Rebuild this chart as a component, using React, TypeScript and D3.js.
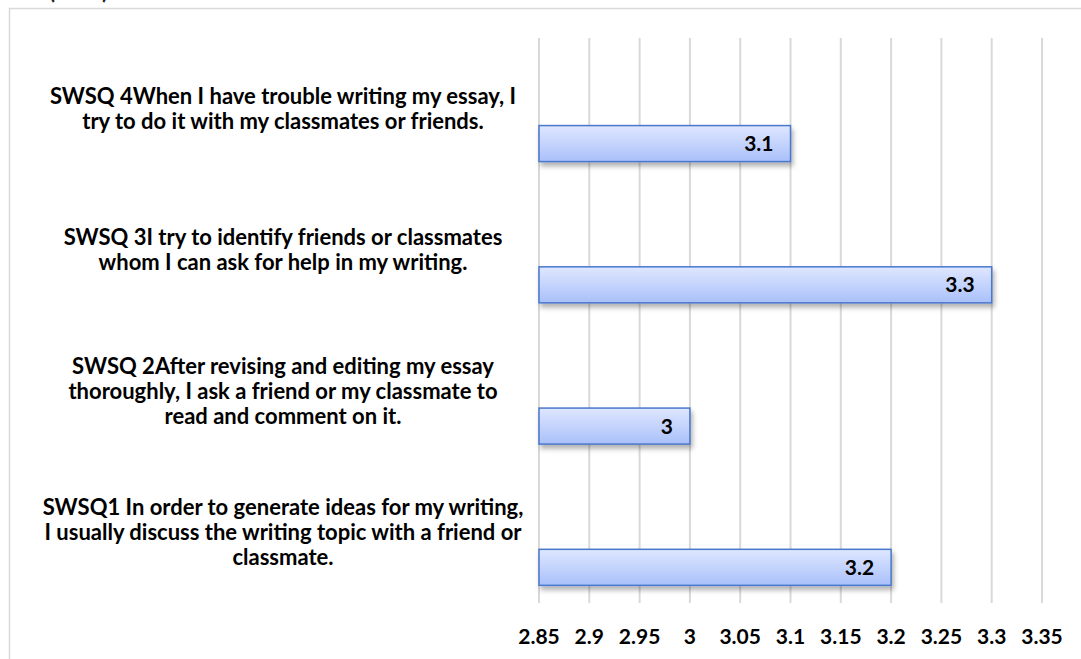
import React, { useEffect, useRef } from 'react';
import * as d3 from 'd3';

// categories listed top to bottom
const categories = ['SWSQ4', 'SWSQ3', 'SWSQ2', 'SWSQ1'];
const labelLines = [
  ['SWSQ 4When I have trouble writing my essay, I', 'try to do it with my classmates or friends.'],
  ['SWSQ 3I try to identify friends or classmates', 'whom I can ask for help in my writing.'],
  ['SWSQ 2After revising and editing my essay', 'thoroughly, I ask a friend or my classmate to', 'read and comment on it.'],
  ['SWSQ1 In order to generate ideas for my writing,', 'I usually discuss the writing topic with a friend or', 'classmate.'],
];
const values = [3.1, 3.3, 3, 3.2];
const ticks = [2.85, 2.9, 2.95, 3, 3.05, 3.1, 3.15, 3.2, 3.25, 3.3, 3.35];

const W = 1081;
const H = 659;
const FONT = 'Lato, "Open Sans", sans-serif';

const App: React.FC = () => {
  const svgRef = useRef<SVGSVGElement>(null);

  useEffect(() => {
    if (!svgRef.current) return;
    const svg = d3.select(svgRef.current);
    svg.selectAll('*').remove();

    const defs = svg.append('defs');
    const grad = defs.append('linearGradient').attr('id', 'barGrad').attr('x1', 0).attr('y1', 0).attr('x2', 0).attr('y2', 1);
    grad.append('stop').attr('offset', '0%').attr('stop-color', '#dfe7ff');
    grad.append('stop').attr('offset', '100%').attr('stop-color', '#a9c0fa');
    const shadow = defs.append('filter').attr('id', 'shadow').attr('x', '-5%').attr('y', '-20%').attr('width', '110%').attr('height', '160%');
    shadow.append('feDropShadow').attr('dx', 2).attr('dy', 4).attr('stdDeviation', 2.5).attr('flood-color', '#000').attr('flood-opacity', 0.3);

    // title of the chart, cut off at the top edge as in the source
    svg.append('text').attr('x', 108).attr('y', -1).attr('text-anchor', 'end')
      .attr('font-family', FONT).attr('font-size', 22).attr('font-weight', 'bold').attr('fill', '#222')
      .text('n (SWS)');

    // chart frame
    svg.append('rect').attr('x', 9.5).attr('y', 8.5).attr('width', W + 20).attr('height', H + 20)
      .attr('fill', 'white').attr('stroke', '#d9d9d9').attr('stroke-width', 1.5);

    const x = d3.scaleLinear().domain([2.85, 3.35]).range([539, 1042]);
    const y = d3.scaleBand<string>().domain(categories).range([38, 603]);

    const g = svg.append('g');

    // gridlines
    g.selectAll('.grid').data(ticks).enter().append('line')
      .attr('x1', d => x(d)).attr('x2', d => x(d))
      .attr('y1', 38).attr('y2', 603)
      .attr('stroke', '#d9d9d9').attr('stroke-width', 2);

    // tick labels
    g.selectAll('.tick').data(ticks).enter().append('text')
      .attr('x', d => x(d)).attr('y', 637).attr('dy', '0.35em')
      .attr('text-anchor', 'middle')
      .attr('font-family', FONT).attr('font-size', 21).attr('font-weight', 'bold').attr('fill', '#000')
      .text(d => String(d));

    const bw = y.bandwidth();
    const barY = (c: string) => (y(c) as number) + bw * 0.62;
    const barH = bw * 0.255;

    // bars
    g.selectAll('.bar').data(values).enter().append('rect')
      .attr('x', x(2.85))
      .attr('y', (d, i) => barY(categories[i]))
      .attr('width', d => x(d) - x(2.85))
      .attr('height', barH)
      .attr('fill', 'url(#barGrad)')
      .attr('stroke', '#4a78cc').attr('stroke-width', 1.5)
      .attr('filter', 'url(#shadow)');

    // value labels
    g.selectAll('.val').data(values).enter().append('text')
      .attr('x', d => x(d) - 17)
      .attr('y', (d, i) => barY(categories[i]) + barH / 2)
      .attr('dy', '0.36em')
      .attr('text-anchor', 'end')
      .attr('font-family', FONT).attr('font-size', 21).attr('font-weight', 'bold').attr('fill', '#000')
      .text(d => String(d));

    // category labels, centered on the band
    const lh = 25;
    categories.forEach((c, i) => {
      const lines = labelLines[i];
      const cy = (y(c) as number) + bw / 2;
      const t = g.append('text').attr('text-anchor', 'middle')
        .attr('font-family', FONT).attr('font-size', 22).attr('font-weight', 'bold').attr('fill', '#000');
      lines.forEach((ln, j) => {
        t.append('tspan').attr('x', 283)
          .attr('y', cy + (j - (lines.length - 1) / 2) * lh)
          .attr('dy', '0.35em')
          .text(ln);
      });
    });
  }, []);

  return (
    <svg ref={svgRef} width={W} height={H} style={{ position: 'absolute', left: 0, top: 0, background: 'white' }} />
  );
};

export default App;
